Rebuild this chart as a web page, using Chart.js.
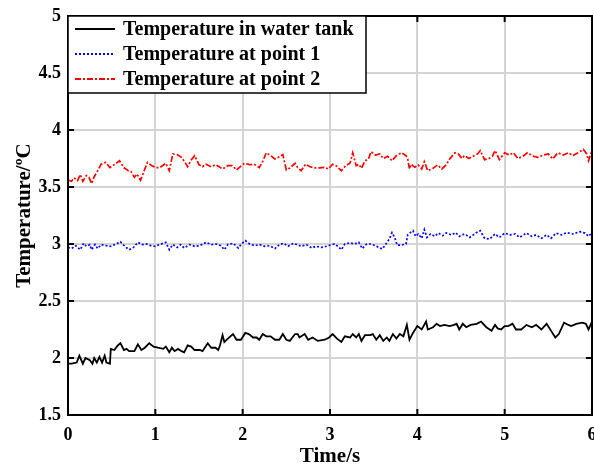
<!DOCTYPE html>
<html>
<head>
<meta charset="utf-8">
<script src="https://cdn.jsdelivr.net/npm/chart.js@4"></script>
<style>
  html, body { margin: 0; padding: 0; background: #fff; }
  #wrap { width: 594px; height: 466px; }
</style>
</head>
<body>
<div id="wrap"><canvas id="chart"></canvas></div>
<script>
// --- data ---
const tankTime = [0, 0.04, 0.10, 0.13, 0.17, 0.20, 0.25, 0.28, 0.30, 0.33, 0.36, 0.39, 0.42, 0.44, 0.48, 0.49, 0.53, 0.57, 0.60, 0.64, 0.67, 0.70, 0.76, 0.80, 0.84, 0.88, 0.93, 0.98, 1.03, 1.09, 1.12, 1.16, 1.19, 1.22, 1.26, 1.30, 1.33, 1.37, 1.41, 1.45, 1.51, 1.54, 1.60, 1.64, 1.69, 1.72, 1.74, 1.77, 1.79, 1.83, 1.89, 1.93, 1.98, 2.03, 2.07, 2.12, 2.16, 2.19, 2.23, 2.27, 2.32, 2.37, 2.42, 2.46, 2.50, 2.54, 2.60, 2.63, 2.65, 2.71, 2.75, 2.80, 2.86, 2.94, 2.99, 3.03, 3.08, 3.13, 3.17, 3.23, 3.26, 3.30, 3.33, 3.36, 3.40, 3.46, 3.49, 3.53, 3.57, 3.61, 3.65, 3.68, 3.72, 3.76, 3.80, 3.84, 3.88, 3.91, 3.95, 4.00, 4.05, 4.10, 4.12, 4.18, 4.22, 4.26, 4.31, 4.37, 4.42, 4.45, 4.48, 4.52, 4.56, 4.61, 4.68, 4.73, 4.79, 4.85, 4.89, 4.92, 4.96, 5.00, 5.04, 5.09, 5.13, 5.19, 5.25, 5.31, 5.36, 5.42, 5.48, 5.53, 5.58, 5.62, 5.68, 5.73, 5.76, 5.82, 5.89, 5.93, 5.96, 6.00];
const tankTemp = [1.95, 1.95, 1.96, 2.02, 1.95, 2.00, 1.98, 1.95, 2.00, 1.96, 2.01, 1.96, 2.02, 1.96, 1.95, 2.08, 2.07, 2.11, 2.13, 2.07, 2.08, 2.06, 2.06, 2.12, 2.07, 2.09, 2.13, 2.10, 2.09, 2.08, 2.10, 2.05, 2.09, 2.06, 2.08, 2.06, 2.05, 2.11, 2.10, 2.07, 2.07, 2.06, 2.13, 2.09, 2.09, 2.07, 2.11, 2.20, 2.14, 2.17, 2.21, 2.16, 2.16, 2.22, 2.21, 2.18, 2.18, 2.16, 2.21, 2.19, 2.19, 2.16, 2.16, 2.21, 2.16, 2.15, 2.21, 2.21, 2.18, 2.21, 2.16, 2.18, 2.15, 2.16, 2.18, 2.21, 2.17, 2.14, 2.19, 2.18, 2.21, 2.18, 2.21, 2.15, 2.20, 2.20, 2.21, 2.16, 2.20, 2.15, 2.18, 2.15, 2.21, 2.17, 2.21, 2.19, 2.29, 2.16, 2.22, 2.28, 2.25, 2.32, 2.25, 2.27, 2.30, 2.28, 2.29, 2.28, 2.29, 2.30, 2.25, 2.30, 2.27, 2.29, 2.30, 2.32, 2.27, 2.24, 2.29, 2.26, 2.25, 2.28, 2.28, 2.30, 2.25, 2.25, 2.29, 2.27, 2.29, 2.25, 2.30, 2.24, 2.18, 2.21, 2.31, 2.29, 2.28, 2.30, 2.31, 2.30, 2.25, 2.32];

const p1Time = [0, 0.04, 0.09, 0.14, 0.18, 0.21, 0.25, 0.27, 0.31, 0.34, 0.38, 0.44, 0.49, 0.55, 0.60, 0.65, 0.70, 0.75, 0.80, 0.85, 0.90, 0.95, 1.00, 1.05, 1.12, 1.16, 1.20, 1.25, 1.29, 1.33, 1.39, 1.45, 1.51, 1.58, 1.64, 1.70, 1.75, 1.79, 1.83, 1.89, 1.95, 1.98, 2.03, 2.08, 2.14, 2.19, 2.25, 2.31, 2.37, 2.42, 2.47, 2.52, 2.58, 2.62, 2.67, 2.73, 2.79, 2.84, 2.90, 2.96, 3.00, 3.05, 3.09, 3.13, 3.17, 3.23, 3.28, 3.33, 3.37, 3.42, 3.47, 3.52, 3.56, 3.60, 3.64, 3.68, 3.71, 3.74, 3.77, 3.82, 3.87, 3.89, 3.92, 3.95, 3.98, 4.01, 4.05, 4.08, 4.11, 4.15, 4.20, 4.24, 4.29, 4.33, 4.39, 4.44, 4.48, 4.54, 4.60, 4.67, 4.72, 4.77, 4.83, 4.89, 4.94, 5.00, 5.06, 5.12, 5.17, 5.25, 5.31, 5.36, 5.42, 5.48, 5.53, 5.59, 5.65, 5.71, 5.78, 5.86, 5.92, 5.96, 6.00];
const p1Temp = [2.97, 2.96, 2.985, 2.95, 3.006, 2.98, 2.995, 2.95, 2.995, 2.96, 2.995, 2.985, 2.98, 3.0, 3.02, 2.98, 2.95, 2.97, 3.015, 2.995, 3.0, 2.985, 2.98, 2.995, 3.015, 2.95, 2.995, 2.97, 2.995, 2.965, 2.995, 2.98, 2.985, 3.015, 2.995, 3.0, 2.985, 2.95, 2.995, 3.006, 2.965, 2.995, 3.03, 3.0, 2.985, 2.995, 2.98, 2.985, 2.96, 2.995, 3.006, 2.98, 3.006, 2.995, 2.98, 2.995, 2.965, 2.98, 2.97, 2.98, 2.99, 3.0, 2.98, 2.95, 3.0, 3.01, 3.0, 3.015, 2.96, 3.0, 3.0, 2.985, 2.97, 2.956, 3.0, 3.044, 3.10, 3.058, 2.99, 2.99, 3.0, 3.08, 3.10, 3.117, 3.067, 3.088, 3.05, 3.126, 3.058, 3.088, 3.067, 3.096, 3.073, 3.096, 3.08, 3.10, 3.067, 3.088, 3.058, 3.096, 3.117, 3.05, 3.044, 3.088, 3.058, 3.096, 3.08, 3.088, 3.058, 3.096, 3.067, 3.08, 3.05, 3.08, 3.05, 3.096, 3.08, 3.10, 3.088, 3.108, 3.096, 3.067, 3.10];

const p2Time = [0, 0.04, 0.07, 0.11, 0.14, 0.17, 0.21, 0.24, 0.27, 0.30, 0.34, 0.38, 0.43, 0.48, 0.53, 0.59, 0.64, 0.69, 0.72, 0.76, 0.79, 0.83, 0.88, 0.91, 0.96, 1.01, 1.05, 1.12, 1.16, 1.20, 1.25, 1.30, 1.34, 1.37, 1.41, 1.45, 1.50, 1.54, 1.58, 1.64, 1.69, 1.73, 1.77, 1.83, 1.88, 1.93, 1.96, 2.02, 2.08, 2.14, 2.19, 2.23, 2.27, 2.32, 2.37, 2.41, 2.46, 2.50, 2.54, 2.60, 2.63, 2.67, 2.72, 2.77, 2.83, 2.88, 2.94, 2.98, 3.03, 3.07, 3.13, 3.18, 3.23, 3.26, 3.30, 3.33, 3.36, 3.40, 3.44, 3.47, 3.52, 3.57, 3.61, 3.66, 3.71, 3.76, 3.82, 3.87, 3.89, 3.91, 3.93, 3.97, 4.01, 4.05, 4.08, 4.12, 4.18, 4.23, 4.28, 4.33, 4.37, 4.43, 4.47, 4.51, 4.54, 4.59, 4.64, 4.69, 4.72, 4.77, 4.82, 4.86, 4.89, 4.94, 5.00, 5.05, 5.10, 5.15, 5.21, 5.26, 5.33, 5.38, 5.44, 5.50, 5.55, 5.61, 5.67, 5.73, 5.78, 5.84, 5.90, 5.94, 5.96, 6.00];
const p2Temp = [3.56, 3.55, 3.58, 3.556, 3.61, 3.55, 3.60, 3.585, 3.53, 3.59, 3.643, 3.70, 3.716, 3.67, 3.696, 3.73, 3.67, 3.643, 3.637, 3.585, 3.614, 3.56, 3.658, 3.716, 3.687, 3.67, 3.67, 3.708, 3.643, 3.79, 3.784, 3.76, 3.716, 3.678, 3.737, 3.775, 3.696, 3.678, 3.70, 3.678, 3.696, 3.678, 3.658, 3.687, 3.687, 3.65, 3.67, 3.708, 3.696, 3.696, 3.67, 3.725, 3.80, 3.775, 3.746, 3.76, 3.784, 3.65, 3.667, 3.708, 3.67, 3.643, 3.70, 3.678, 3.667, 3.667, 3.673, 3.658, 3.70, 3.687, 3.643, 3.687, 3.71, 3.80, 3.687, 3.70, 3.664, 3.73, 3.746, 3.81, 3.78, 3.79, 3.75, 3.77, 3.73, 3.775, 3.80, 3.775, 3.746, 3.658, 3.70, 3.673, 3.693, 3.658, 3.722, 3.643, 3.664, 3.693, 3.658, 3.693, 3.746, 3.80, 3.79, 3.75, 3.775, 3.75, 3.77, 3.79, 3.82, 3.74, 3.75, 3.77, 3.82, 3.74, 3.80, 3.78, 3.80, 3.75, 3.77, 3.80, 3.77, 3.76, 3.78, 3.79, 3.746, 3.80, 3.78, 3.80, 3.775, 3.80, 3.83, 3.79, 3.73, 3.82];

const seriesLabels = ['Temperature in water tank', 'Temperature at point 1', 'Temperature at point 2'];
const xTicks = [0, 1, 2, 3, 4, 5, 6];
const yTicks = [1.5, 2, 2.5, 3, 3.5, 4, 4.5, 5];

const FONT = '"Liberation Serif", "Times New Roman", serif';

function pts(xs, ys) {
    return xs.map((x, i) => ({ x: x, y: ys[i] }));
}

// box round the plot with inward ticks on all four sides (MATLAB look)
const frameBox = {
    id: 'frameBox',
    afterDatasetsDraw(chart) {
        const { ctx, chartArea: a, scales } = chart;
        ctx.save();
        ctx.strokeStyle = '#000';
        ctx.lineWidth = 2;
        ctx.strokeRect(a.left, a.top, a.right - a.left, a.bottom - a.top);
        ctx.beginPath();
        xTicks.forEach(v => {
            const px = scales.x.getPixelForValue(v);
            ctx.moveTo(px, a.bottom); ctx.lineTo(px, a.bottom - 6);
            ctx.moveTo(px, a.top); ctx.lineTo(px, a.top + 6);
        });
        yTicks.forEach(v => {
            const py = scales.y.getPixelForValue(v);
            ctx.moveTo(a.left, py); ctx.lineTo(a.left + 6, py);
            ctx.moveTo(a.right, py); ctx.lineTo(a.right - 6, py);
        });
        ctx.stroke();

        // legend box, top-left inside the plot
        const lx = a.left, ly = a.top, lw = 298, lh = 77;
        ctx.fillStyle = '#fff';
        ctx.fillRect(lx, ly, lw, lh);
        ctx.lineWidth = 1.5;
        ctx.strokeRect(lx, ly, lw, lh);
        ctx.font = 'bold 20px ' + FONT;
        ctx.textBaseline = 'middle';
        chart.data.datasets.forEach((ds, i) => {
            const y = ly + 13 + i * 25;
            ctx.save();
            ctx.strokeStyle = ds.borderColor;
            ctx.lineWidth = 2;
            ctx.setLineDash(ds.borderDash || []);
            ctx.beginPath();
            ctx.moveTo(lx + 7, y); ctx.lineTo(lx + 47, y);
            ctx.stroke();
            ctx.restore();
            ctx.fillStyle = '#000';
            ctx.fillText(ds.label, lx + 55, y + 1);
        });
        ctx.restore();
    }
};

const ctx = document.getElementById('chart').getContext('2d');
new Chart(ctx, {
    type: 'line',
    data: {
        datasets: [
            { label: seriesLabels[0], data: pts(tankTime, tankTemp), borderColor: '#000000', borderWidth: 1.8, borderDash: [] },
            { label: seriesLabels[1], data: pts(p1Time, p1Temp), borderColor: '#0000ff', borderWidth: 1.7, borderDash: [2, 2] },
            { label: seriesLabels[2], data: pts(p2Time, p2Temp), borderColor: '#ff0000', borderWidth: 1.7, borderDash: [6, 2, 2, 2] }
        ]
    },
    options: {
        responsive: true,
        maintainAspectRatio: false,
        animation: false,
        elements: { point: { radius: 0 }, line: { tension: 0 } },
        layout: { padding: { top: 16, right: 2, left: 0, bottom: 0 } },
        plugins: { legend: { display: false }, tooltip: { enabled: false } },
        scales: {
            x: {
                type: 'linear',
                min: 0, max: 6,
                afterBuildTicks: s => { s.ticks = xTicks.map(v => ({ value: v })); },
                afterFit: s => { s.height = 51; s.paddingLeft = 0; s.paddingRight = 0; },
                grid: { color: '#d4d4d4', lineWidth: 2, drawTicks: false },
                border: { color: '#000', width: 2 },
                ticks: { color: '#000', padding: 10, maxRotation: 0, callback: v => String(v), font: { family: FONT, weight: 'bold', size: 18 } },
                title: { display: true, text: 'Time/s', color: '#000', padding: { top: 0, bottom: -3 }, font: { family: FONT, weight: 'bold', size: 21 } }
            },
            y: {
                min: 1.5, max: 5,
                afterBuildTicks: s => { s.ticks = yTicks.map(v => ({ value: v })); },
                afterFit: s => { s.width = 68; s.paddingTop = 0; s.paddingBottom = 0; },
                grid: { color: '#d4d4d4', lineWidth: 2, drawTicks: false },
                border: { color: '#000', width: 2 },
                ticks: { color: '#000', padding: 7, callback: v => String(v), font: { family: FONT, weight: 'bold', size: 18 } },
                title: { display: true, text: 'Temperature/\u00BAC', color: '#000', padding: { top: 12, bottom: 0 }, font: { family: FONT, weight: 'bold', size: 21 } }
            }
        }
    },
    plugins: [frameBox]
});
</script>
</body>
</html>
